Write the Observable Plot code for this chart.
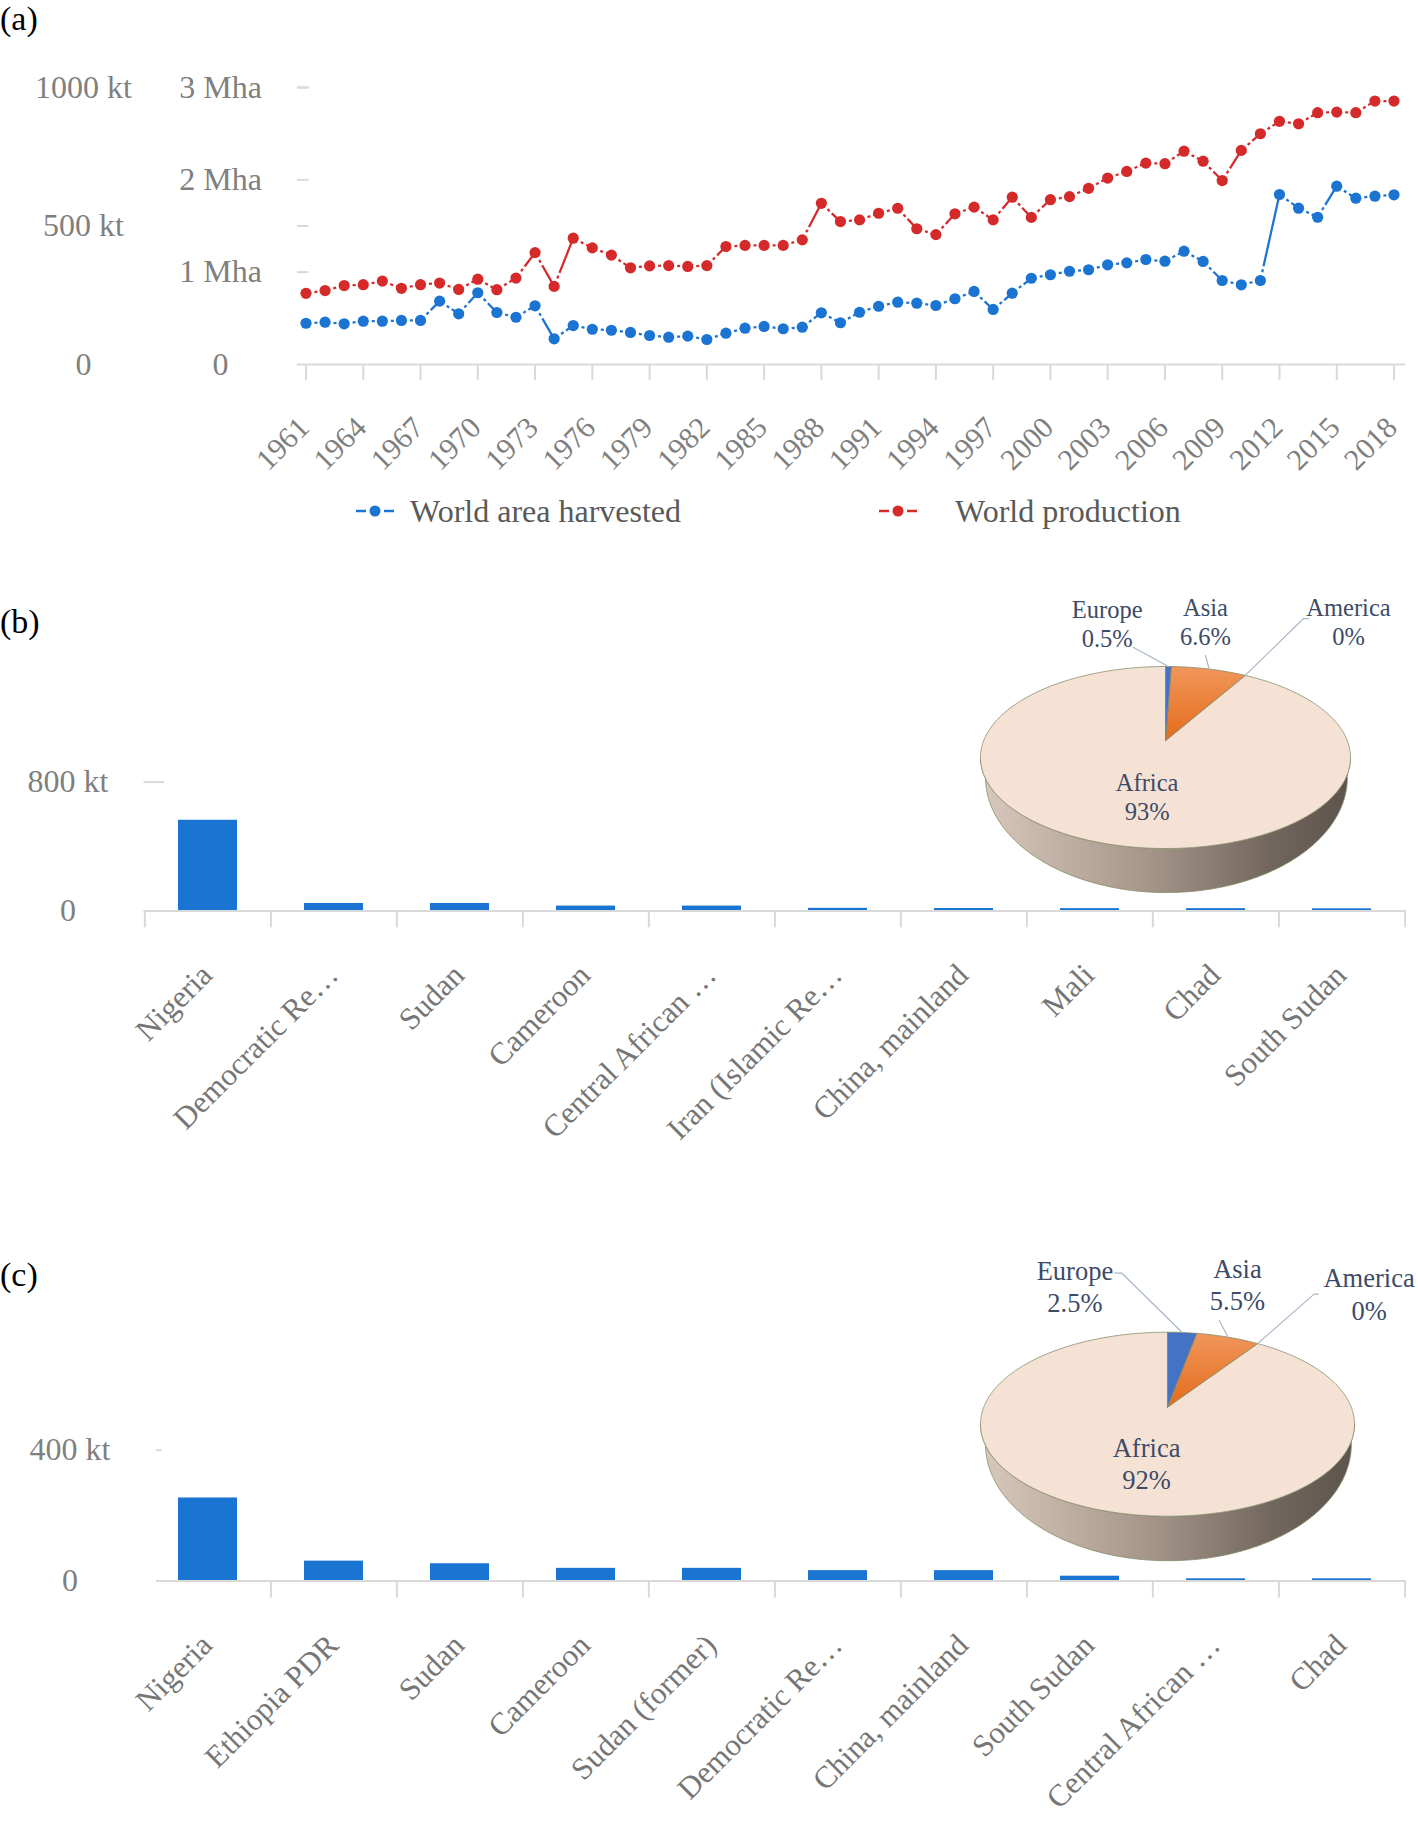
<!DOCTYPE html>
<html>
<head>
<meta charset="utf-8">
<script src="https://cdn.jsdelivr.net/npm/d3@7"></script>
<script src="https://cdn.jsdelivr.net/npm/@observablehq/plot@0.6"></script>
<style>
  html, body { margin: 0; padding: 0; background: #fff; }
  #root { position: relative; width: 1418px; height: 1846px; overflow: hidden; background: #fff;
          font-family: "Liberation Serif", "Times New Roman", serif; }
  .panel-label { position: absolute; font-size: 34px; line-height: 1.1; color: #000; }
  .legend-text { position: absolute; font-size: 32px; line-height: 1; color: #595959; white-space: nowrap; }
</style>
</head>
<body>
<div id="root"></div>
<script>
// ---------------- DATA ----------------
const years = [1961,1962,1963,1964,1965,1966,1967,1968,1969,1970,
               1971,1972,1973,1974,1975,1976,1977,1978,1979,1980,
               1981,1982,1983,1984,1985,1986,1987,1988,1989,1990,
               1991,1992,1993,1994,1995,1996,1997,1998,1999,2000,
               2001,2002,2003,2004,2005,2006,2007,2008,2009,2010,
               2011,2012,2013,2014,2015,2016,2017,2018];
// World area harvested (Mha)
const areaHarvestedMha = [0.447,0.458,0.441,0.469,0.469,0.477,0.477,0.686,0.549,0.777,
                          0.563,0.512,0.636,0.278,0.422,0.382,0.371,0.347,0.314,0.296,
                          0.307,0.271,0.339,0.393,0.412,0.387,0.404,0.560,0.452,0.566,
                          0.631,0.675,0.664,0.639,0.712,0.791,0.596,0.772,0.934,0.972,
                          1.010,1.026,1.080,1.101,1.137,1.119,1.227,1.116,0.910,0.863,
                          0.910,1.841,1.693,1.595,1.931,1.801,1.823,1.838];
// World production (kt)
const productionKt = [257,267,285,288,301,275,288,294,271,308,
                      270,312,404,282,456,421,395,349,356,357,
                      354,357,426,430,430,430,450,582,516,522,
                      546,564,490,469,544,568,522,604,531,595,
                      606,636,673,697,727,725,770,734,664,773,
                      833,878,869,909,911,909,951,951];
const yearTicks = [1961,1964,1967,1970,1973,1976,1979,1982,1985,1988,1991,1994,1997,2000,2003,2006,2009,2012,2015,2018];
const mhaTicks = [0, 1, 2, 3];
const ktTicks = [0, 500, 1000];
const seriesNames = ["World area harvested", "World production"];

// Panel (b)
const countriesB = ["Nigeria","Democratic Re\u2026","Sudan","Cameroon","Central African \u2026",
                    "Iran (Islamic Re\u2026","China, mainland","Mali","Chad","South Sudan"];
const valuesB = [563, 46, 46, 30, 30, 16, 15, 14, 14, 13];
const yTicksB = [0, 800];
// Panel (c)
const countriesC = ["Nigeria","Ethiopia PDR","Sudan","Cameroon","Sudan (former)",
                    "Democratic Re\u2026","China, mainland","South Sudan","Central African \u2026","Chad"];
const valuesC = [254, 61, 53, 39, 39, 32, 32, 15, 7, 7];
const yTicksC = [0, 400];
// Pies (share %, clockwise from 12 o'clock)
const regions = ["Europe", "Asia", "America", "Africa"];
const sharesB = [0.5, 6.6, 0, 93];
const sharesC = [2.5, 5.5, 0, 92];

// ---------------- STYLE ----------------
const FONT = '"Liberation Serif", "Times New Roman", serif';
const AXIS = "#d9d9d9";
const TICK_TEXT = "#7f7f7f";
const BLUE = "#1b74d1", RED = "#d42a2a", BAR = "#1a74d2";
const PIE_TEXT = "#3d4b67", LEADER = "#a9b6c8", PIE_EDGE = "#848c68";
const sliceFill = {Europe: "#4472c4", Asia: "url(#asia-ID)", America: "#a5a5a5", Africa: "#f6e2d5"};

const root = document.getElementById("root");
function place(el, left, top) {
  el.style.position = "absolute";
  el.style.left = left + "px";
  el.style.top = top + "px";
  root.appendChild(el);
}
function label(text, cls, left, top) {
  const d = document.createElement("div");
  d.className = cls; d.textContent = text;
  d.style.left = left + "px"; d.style.top = top + "px";
  root.appendChild(d);
  return d;
}

// ---------------- PANEL (a) ----------------
const ktToAxis = kt => kt * 3 / 1000;   // 1000 kt is aligned with 3 Mha
const areaSeries = years.map((year, i) => ({year, v: areaHarvestedMha[i]}));
const prodSeries = years.map((year, i) => ({year, v: ktToAxis(productionKt[i])}));
const segments = s => d3.pairs(s).map(([a, b]) => ({x1: a.year, y1: a.v, x2: b.year, y2: b.v}));
const LINE_DASH = "0,8.5,3,3,1000,0";

const chartA = Plot.plot({
  width: 1418, height: 480, margin: 0,
  x: {type: "linear", domain: [years[0], years[years.length - 1]], range: [305.5, 1393.5], axis: null},
  y: {type: "linear", domain: [0, 3], range: [364, 87], axis: null},
  style: {background: "transparent", overflow: "visible", fontFamily: FONT},
  marks: [
    Plot.ruleY([0], {x1: years[0], x2: years[years.length - 1], insetLeft: -8.5, insetRight: -12, stroke: AXIS, strokeWidth: 2}),
    Plot.ruleY([...mhaTicks.filter(d => d > 0), ...ktTicks.filter(d => d > 0).map(ktToAxis)],
               {x1: years[0], x2: years[0], insetLeft: -8.5, insetRight: -3, stroke: AXIS, strokeWidth: 2}),
    Plot.ruleX(yearTicks, {x: d => d, y1: 0, y2: 0, insetBottom: -16, stroke: AXIS, strokeWidth: 2}),
    Plot.link(segments(areaSeries), {x1: "x1", y1: "y1", x2: "x2", y2: "y2", stroke: BLUE, strokeWidth: 2.25, strokeDasharray: LINE_DASH}),
    Plot.link(segments(prodSeries), {x1: "x1", y1: "y1", x2: "x2", y2: "y2", stroke: RED, strokeWidth: 2.25, strokeDasharray: LINE_DASH}),
    Plot.dot(areaSeries, {x: "year", y: "v", r: 5.6, fill: BLUE}),
    Plot.dot(prodSeries, {x: "year", y: "v", r: 5.6, fill: RED}),
    Plot.text(mhaTicks, {y: d => d, text: d => d === 0 ? "0" : `${d} Mha`, frameAnchor: "left", textAnchor: "middle", dx: 220,
                         fontSize: 32, fill: TICK_TEXT, fontFamily: FONT}),
    Plot.text(ktTicks, {y: d => ktToAxis(d), text: d => d === 0 ? "0" : `${d} kt`, frameAnchor: "left", textAnchor: "middle", dx: 83,
                        fontSize: 32, fill: TICK_TEXT, fontFamily: FONT}),
    Plot.text(yearTicks, {x: d => d, y: 0, text: d => String(d), rotate: -45, textAnchor: "end",
                          dx: -2, dy: 58, fontSize: 30, fill: TICK_TEXT, fontFamily: FONT})
  ]
});
place(chartA, 0, 0);

// legend (a)
function swatch(color) {
  const ns = "http://www.w3.org/2000/svg";
  const s = document.createElementNS(ns, "svg");
  s.setAttribute("width", 40); s.setAttribute("height", 14);
  s.innerHTML = `<line x1="1" x2="11" y1="7" y2="7" stroke="${color}" stroke-width="2.5"/>
                 <circle cx="20" cy="7" r="5.5" fill="${color}"/>
                 <line x1="29" x2="39" y1="7" y2="7" stroke="${color}" stroke-width="2.5"/>`;
  return s;
}
place(swatch(BLUE), 355, 504);
label(seriesNames[0], "legend-text", 410, 495);
place(swatch(RED), 878, 504);
label(seriesNames[1], "legend-text", 955, 495);

// ---------------- BAR PANELS ----------------
function barChart({cats, vals, yTicks, yRange, top, height, baseInset, firstBoundary, yTickInsetRight, labelDx}) {
  const marginLeft = 143.5, marginRight = 12.3;
  const frameW = 1418 - marginLeft - marginRight;
  const step = frameW / cats.length;
  const data = cats.map((name, i) => ({name, v: vals[i]}));
  const yMax = yTicks[yTicks.length - 1];
  const svg = Plot.plot({
    width: 1418, height, marginLeft, marginRight, marginTop: 0, marginBottom: 0,
    x: {type: "band", domain: cats, paddingInner: 0.534, paddingOuter: 0.267, axis: null},
    y: {type: "linear", domain: [0, yMax], range: yRange, axis: null},
    style: {background: "transparent", overflow: "visible", fontFamily: FONT},
    marks: [
      Plot.ruleY([yMax], {stroke: AXIS, strokeWidth: 2, insetLeft: baseInset, insetRight: frameW - yTickInsetRight}),
      Plot.barY(data, {x: "name", y: "v", fill: BAR}),
      Plot.ruleY([0], {stroke: AXIS, strokeWidth: 2, insetLeft: baseInset}),
      Plot.ruleX(firstBoundary ? cats : cats.slice(1), {x: d => d, y1: 0, y2: 0, insetBottom: -17, dx: -step / 2, stroke: AXIS, strokeWidth: 2}),
      Plot.ruleX(cats.slice(-1), {x: d => d, y1: 0, y2: 0, insetBottom: -17, dx: step / 2, stroke: AXIS, strokeWidth: 2}),
      Plot.text(yTicks, {y: d => d, text: d => d === 0 ? "0" : `${d} kt`, frameAnchor: "left", textAnchor: "middle", dx: labelDx,
                         fontSize: 32, fill: TICK_TEXT, fontFamily: FONT}),
      Plot.text(data, {x: "name", y: 0, text: "name", rotate: -45, textAnchor: "end", dx: -1, dy: 59,
                       fontSize: 31, fill: "#767676", fontFamily: FONT})
    ]
  });
  place(svg, 0, top);
}
barChart({cats: countriesB, vals: valuesB, yTicks: yTicksB, yRange: [350.4, 221.6], top: 560, height: 620,
          baseInset: 0, firstBoundary: true, yTickInsetRight: 21, labelDx: -76});
barChart({cats: countriesC, vals: valuesC, yTicks: yTicksC, yRange: [350.6, 219.7], top: 1230, height: 616,
          baseInset: 12.5, firstBoundary: false, yTickInsetRight: 18, labelDx: -74});

// ---------------- PIES ----------------
const WALL = {cx: 0.005, cy: -0.22, rx: 0.978, ry: 1.264}; // lower rim of the 3-D side wall (unit coords)
const APEX = 0.185;                                      // perspective apex of the slices
function pieChart({shares, left, top, width, height, cx, cy, rx, ry, layout, fontSize, lineGap, id}) {
  const arcs = d3.pie().sort(null).value(d => d.v)(regions.map((name, i) => ({name, v: shares[i]})));
  const rim = a => ({x: Math.sin(a), y: Math.cos(a)});
  const polys = arcs.filter(a => a.data.v > 0).map(a => {
    const n = Math.max(2, Math.ceil((a.endAngle - a.startAngle) / 0.01));
    const pts = [{x: 0, y: APEX}];
    for (let k = 0; k <= n; k++) pts.push(rim(a.startAngle + (a.endAngle - a.startAngle) * k / n));
    pts.push({x: 0, y: APEX});
    return {name: a.data.name, pts};
  });
  const wallPts = [];
  for (let k = 0; k <= 180; k++) wallPts.push(rim(Math.PI / 2 + Math.PI * k / 180));
  for (let k = 0; k <= 180; k++) {
    const a = 3 * Math.PI / 2 - Math.PI * k / 180;
    wallPts.push({x: WALL.cx + WALL.rx * Math.sin(a), y: WALL.cy + WALL.ry * Math.cos(a)});
  }
  const mid = a => (a.startAngle + a.endAngle) / 2;
  const pct = v => `${v}%`;
  const labels = [], leaders = [];
  for (const a of arcs) {
    const name = a.data.name;
    if (layout[name]) {
      const L = layout[name];
      labels.push({x: L.x, y: L.y, name, value: pct(a.data.v)});
      const r = rim(mid(a));
      L.lead.forEach(p => leaders.push({name, x: p[0], y: p[1]}));
      leaders.push({name, x: r.x, y: r.y});
    } else {
      const m = mid(a);
      labels.push({x: 0.45 * Math.sin(m), y: 0.45 * Math.cos(m), name, value: pct(a.data.v)});
    }
  }
  const marks = [
    Plot.line(wallPts, {x: "x", y: "y", fill: `url(#wall-${id})`, stroke: PIE_EDGE, strokeWidth: 0.8}),
    ...polys.reverse().map(p => Plot.line(p.pts, {x: "x", y: "y", fill: sliceFill[p.name].replace("ID", id), stroke: PIE_EDGE, strokeWidth: 0.8})),
    Plot.line(leaders, {x: "x", y: "y", z: "name", stroke: LEADER, strokeWidth: 1.2}),
    Plot.text(labels, {x: "x", y: "y", text: "name", dy: -lineGap / 2, fontSize, fill: PIE_TEXT, fontFamily: FONT}),
    Plot.text(labels, {x: "x", y: "y", text: "value", dy: lineGap / 2, fontSize, fill: PIE_TEXT, fontFamily: FONT})
  ];
  const svg = Plot.plot({
    width, height, margin: 0,
    x: {type: "linear", domain: [-1, 1], range: [cx - rx, cx + rx], axis: null},
    y: {type: "linear", domain: [-1, 1], range: [cy + ry, cy - ry], axis: null},
    style: {background: "transparent", overflow: "visible", fontFamily: FONT},
    marks
  });
  const defs = d3.select(svg).insert("defs", ":first-child");
  const wg = defs.append("linearGradient").attr("id", `wall-${id}`).attr("x1", 0).attr("x2", 1).attr("y1", 0).attr("y2", 0);
  [[0, "#d9c9bc"], [0.45, "#a6968a"], [0.78, "#72675e"], [1, "#5c534c"]].forEach(([o, c]) => wg.append("stop").attr("offset", o).attr("stop-color", c));
  const ag = defs.append("linearGradient").attr("id", `asia-${id}`).attr("x1", 0).attr("x2", 0).attr("y1", 0).attr("y2", 1);
  [[0, "#f1965c"], [1, "#e46c1a"]].forEach(([o, c]) => ag.append("stop").attr("offset", o).attr("stop-color", c));
  place(svg, left, top);
}
pieChart({shares: sharesB, left: 940, top: 580, width: 478, height: 330, cx: 225, cy: 177, rx: 185, ry: 91,
          fontSize: 24.5, lineGap: 28.5, id: "b",
          layout: {Europe: {x: -0.315, y: 1.462, lead: [[-0.173, 1.209]]},
                   Asia: {x: 0.216, y: 1.484, lead: [[0.216, 1.121]]},
                   America: {x: 0.989, y: 1.484, lead: [[0.773, 1.527], [0.746, 1.527]]}}});
pieChart({shares: sharesC, left: 940, top: 1240, width: 478, height: 345, cx: 227, cy: 183.7, rx: 187, ry: 92,
          fontSize: 26.5, lineGap: 32.4, id: "c",
          layout: {Europe: {x: -0.495, y: 1.488, lead: [[-0.283, 1.643], [-0.245, 1.643]]},
                   Asia: {x: 0.374, y: 1.508, lead: [[0.277, 1.127]]},
                   America: {x: 1.078, y: 1.404, lead: [[0.807, 1.414], [0.784, 1.414]]}}});

// ---------------- PANEL LABELS ----------------
label("(a)", "panel-label", 0, 0);
label("(b)", "panel-label", 0, 603);
label("(c)", "panel-label", 0, 1256);
</script>
</body>
</html>
